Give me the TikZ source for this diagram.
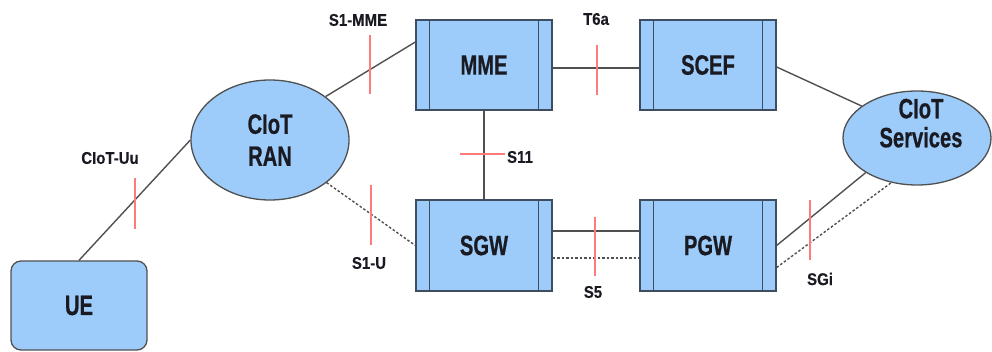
\documentclass[tikz,border=0pt]{standalone}
\usepackage{fontspec}
\usetikzlibrary{shapes.geometric}
\newfontfamily\bigf{Liberation Sans}[FakeStretch=0.72, FakeBold=0.6]
\newfontfamily\smallf{Liberation Sans}[FakeStretch=0.88, FakeBold=0.3]
\definecolor{fillc}{HTML}{9ECCFA}
\definecolor{boxc}{HTML}{3E4E60}
\definecolor{linec}{HTML}{505050}
\definecolor{tickc}{HTML}{FF7A7A}
\definecolor{txtc}{HTML}{1A1A22}
\tikzset{
  bigtext/.style={font=\bigf\bfseries\fontsize{28}{30}\selectfont, text=txtc, align=center},
  proc/.style={bigtext, draw=boxc, fill=fillc, line width=1.3pt, minimum width=136pt, minimum height=90pt, inner sep=0pt,
    path picture={\draw[boxc, line width=1.2pt]
      ([xshift=13.5pt]path picture bounding box.north west) -- ([xshift=13.5pt]path picture bounding box.south west)
      ([xshift=-13.5pt]path picture bounding box.north east) -- ([xshift=-13.5pt]path picture bounding box.south east);}},
  uebox/.style={bigtext, draw=linec, fill=fillc, line width=1.3pt, rounded corners=10pt, minimum width=136pt, minimum height=89pt},
  cloud/.style={bigtext, ellipse, draw=linec, fill=fillc, line width=1.3pt, inner sep=0pt},
  link/.style={draw=linec, line width=1.4pt},
  ulink/.style={link, dash pattern=on 2.5pt off 2pt},
  tick/.style={draw=tickc, line width=1.2pt},
  lab/.style={font=\smallf\bfseries\fontsize{17}{19}\selectfont, text=txtc, inner sep=0pt}
}
\begin{document}
\begin{tikzpicture}[x=1pt,y=-1pt]
\useasboundingbox (0,0) rectangle (992,352);
% nodes
\node[proc] (mme) at (484,65) {MME};
\node[proc] (scef) at (708,65) {SCEF};
\node[proc, minimum height=91pt] (sgw) at (484,245.5) {SGW};
\node[proc, minimum height=91pt] (pgw) at (708,245.5) {PGW};
\node[uebox] (ue) at (79,305.5) {UE};
\node[cloud, minimum width=158pt, minimum height=120pt] (ran) at (270,140) {CIoT\\[2pt]RAN};
\node[cloud, minimum width=148pt, minimum height=94pt, text depth=30pt, inner ysep=-18pt] (serv) at (917,138) {\hspace*{8pt}CIoT\\[-1pt]\hspace*{8pt}Services};
% connectors
\draw[link] (ue.north) -- (ran.west);
\draw[link] (ran.38) -- ([yshift=23pt]mme.west);
\draw[ulink] (ran.-37) -- (sgw.west);
\draw[link] (mme.south) -- (sgw.north);
\draw[link] ([yshift=-3pt]mme.east) -- ([yshift=-3pt]scef.west);
\draw[link] ([yshift=14.5pt]sgw.east) -- ([yshift=14.5pt]pgw.west);
\draw[ulink] ([yshift=-12.5pt]sgw.east) -- ([yshift=-12.5pt]pgw.west);
\draw[link] ([yshift=-2pt]scef.east) -- (serv.150);
\draw[link] (pgw.east) -- (serv.214);
\draw[ulink] ([yshift=-22pt]pgw.east) -- (serv.240);
% interface ticks
\draw[tick] (135,178) -- (135,229);
\draw[tick] (370,35) -- (370,94);
\draw[tick] (597,45) -- (597,95);
\draw[tick] (460,154) -- (505,154);
\draw[tick] (371,185) -- (371,245);
\draw[tick] (595,217) -- (595,276);
\draw[tick] (810,200) -- (810,260);
% labels
\node[lab] (luu) at (110,158) {CIoT-Uu};
\node[lab] (ls1m) at (358,20) {S1-MME};
\node[lab] (lt6a) at (596,19) {T6a};
\node[lab] (ls11) at (520,157) {S11};
\node[lab] (ls1u) at (369,263) {S1-U};
\node[lab] (ls5) at (593,292) {S5};
\node[lab] (lsgi) at (820,279) {SGi};
\end{tikzpicture}
\end{document}
